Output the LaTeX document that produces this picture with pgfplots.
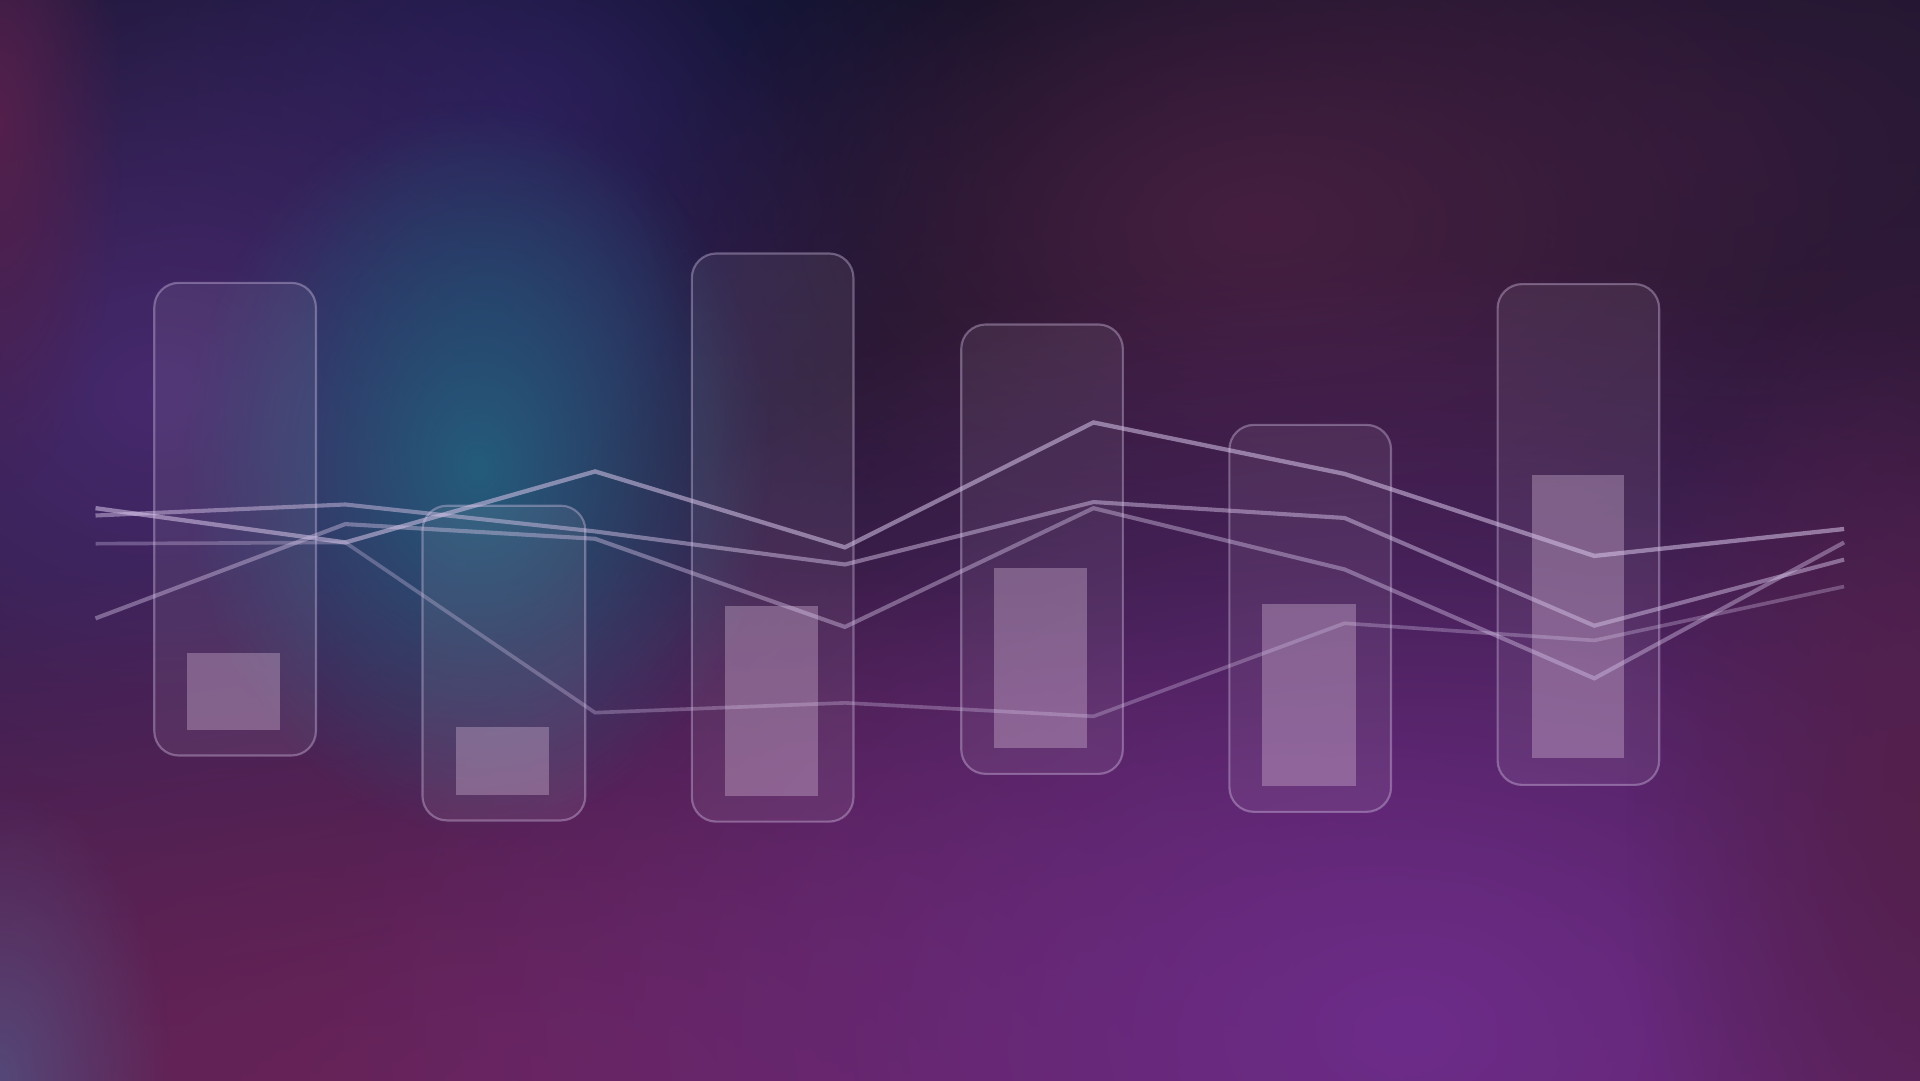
\documentclass[border=0pt]{standalone}
\usepackage{pgfplots}
\usepackage{pgfplotstable}
\pgfplotsset{compat=1.18}
\usetikzlibrary{fadings}

\definecolor{lav}{RGB}{214,196,232}
\definecolor{mauve}{RGB}{212,184,214}
\definecolor{bgtop}{HTML}{141428}
\definecolor{bgmid}{HTML}{2A1936}
\definecolor{bgbot}{HTML}{561E4C}
\definecolor{bdark}{HTML}{0C1022}
\definecolor{bplum}{HTML}{301A3A}
\definecolor{bnavy}{HTML}{221C52}
\definecolor{bslate}{HTML}{2A2C5E}
\definecolor{bpurple}{HTML}{46296E}
\definecolor{bmagenta}{HTML}{54204C}
\definecolor{bwine}{HTML}{461F40}
\definecolor{bberry}{HTML}{68245A}
\definecolor{bviolet}{HTML}{6C2C8A}
\definecolor{bteal}{HTML}{245C7C}
\definecolor{bgrey}{HTML}{544878}

\tikzfading[name=blob, inner color=transparent!0, outer color=transparent!100]

% soft background blob: colour, x, y, x radius, y radius (mm, fades out at half)
\newcommand{\blob}[5]{\fill[#1, path fading=blob] (axis cs:#2,#3) ellipse[x radius=#4mm, y radius=#5mm];}
% rounded range bar: left, centre, right, low, high
\newcommand{\rbar}[5]{\addplot[outerbar] coordinates {(#2,#4) (#3,#4) (#3,#5) (#1,#5) (#1,#4)} -- cycle;}
\newcommand{\ibar}[4]{\addplot[innerbar] coordinates {(#1,#3) (#2,#3) (#2,#4) (#1,#4)} -- cycle;}

\pgfplotstableread{
x    A    B    C    D
78   467  461  377  438
282  439  470  454  439
486  497  448  442  300
690  435  421  370  308
893  537  472  467  297
1098 495  459  417  373
1302 428  371  328  359
1506 450  425  439  403
}\lines

\begin{document}
\begin{tikzpicture}
\begin{axis}[
    name=ax,
    hide axis,
    scale only axis,
    width=156.8mm, height=88.2mm,
    xmin=0, xmax=1568, ymin=0, ymax=882,
    outerbar/.style={draw=lav, draw opacity=0.38, line width=0.5pt,
        fill=white, fill opacity=0.07, rounded corners=2mm},
    innerbar/.style={draw=none, fill=mauve, fill opacity=0.37},
]
% background
\shade[top color=bgtop, bottom color=bgbot, middle color=bgmid]
    (rel axis cs:0,0) rectangle (rel axis cs:1,1);
\blob{bdark}{650}{850}{80}{26}
\blob{bplum}{1400}{760}{70}{40}
\blob{bnavy}{430}{800}{40}{32}
\blob{bpurple}{130}{560}{60}{50}
\blob{bmagenta}{0}{780}{10}{30}
\blob{bwine}{1030}{700}{50}{30}
\blob{bberry}{420}{0}{100}{44}
\blob{bviolet}{1150}{40}{90}{64}
\blob{bmagenta}{1568}{220}{24}{50}
\blob{bslate}{400}{632}{16}{16}
\blob{bteal}{390}{500}{24}{30}
\blob{bgrey}{0}{0}{14}{24}

% range bars
\rbar{126}{192}{258}{265}{651}
\rbar{345}{412}{478}{212}{469}
\rbar{565}{631}{697}{211}{675}
\rbar{785}{851}{917}{250}{617}
\rbar{1004}{1070}{1136}{219}{535}
\rbar{1223}{1289}{1355}{241}{650}

\ibar{153}{229}{286}{349}
\ibar{372}{448}{233}{288}
\ibar{592}{668}{232}{387}
\ibar{812}{888}{271}{418}
\ibar{1031}{1107}{240}{389}
\ibar{1251}{1326}{263}{494}

% lines
\addplot[lav, opacity=0.32, line width=0.85pt] table[x=x, y=D] {\lines};
\addplot[lav, opacity=0.42, line width=0.95pt] table[x=x, y=C] {\lines};
\addplot[lav, opacity=0.48, line width=0.95pt] table[x=x, y=B] {\lines};
\addplot[lav, opacity=0.55, line width=1pt] table[x=x, y=A] {\lines};
\end{axis}
\pgfresetboundingbox
\path[use as bounding box] (ax.south west) rectangle (ax.north east);
\end{tikzpicture}
\end{document}
